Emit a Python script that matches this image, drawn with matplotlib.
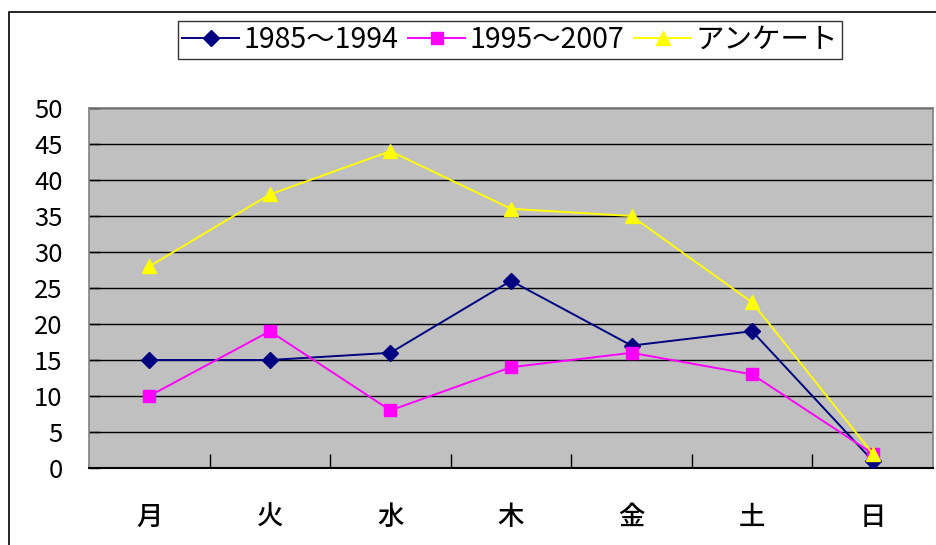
import matplotlib
matplotlib.use("Agg")
import matplotlib.pyplot as plt
from matplotlib.patches import Rectangle
import numpy as np

plt.rcParams['font.family'] = ['Noto Sans CJK JP', 'DejaVu Sans']

days = ["月", "火", "水", "木", "金", "土", "日"]
s1_label = "1985～1994"
s2_label = "1995～2007"
s3_label = "アンケート"
s1 = [15, 15, 16, 26, 17, 19, 1]
s2 = [10, 19, 8, 14, 16, 13, 2]
s3 = [28, 38, 44, 36, 35, 23, 2]
yticks = [0, 5, 10, 15, 20, 25, 30, 35, 40, 45, 50]

W, H = 936, 545
fig = plt.figure(figsize=(W / 100, H / 100), dpi=100)

# outer chart frame
fig.patches.append(Rectangle((9 / W, -0.2), 1.5, 1.2 - 12 / H, transform=fig.transFigure,
                             fill=False, edgecolor='black', linewidth=1.2, clip_on=False))

L, R, T, B = 89, 933, 108, 468
ax = fig.add_axes([L / W, 1 - B / H, (R - L) / W, (B - T) / H])
ax.set_facecolor('#C0C0C0')

x = np.arange(len(days))
ax.plot(x, s1, color='#000080', marker='D', markersize=8.5, linewidth=1.4, label=s1_label, zorder=3)
ax.plot(x, s2, color='#FF00FF', marker='s', markersize=8.5, linewidth=1.4, label=s2_label, zorder=3)
ax.plot(x, s3, color='#FFFF00', marker='^', markersize=10, linewidth=1.4, label=s3_label, zorder=3)

ax.set_xlim(-0.5, len(days) - 0.5)
ax.set_ylim(0, 50)
ax.set_yticks(yticks)
ax.set_yticklabels([str(v) for v in yticks], fontsize=18.5)
ax.yaxis.grid(True, color='black', linewidth=1.0)
ax.set_axisbelow(True)
ax.set_xticks(x)
ax.set_xticklabels(days, fontsize=19, fontweight='medium')
ax.set_xticks(np.arange(0.5, len(days) - 1, 1.0), minor=True)
ax.tick_params(axis='x', which='major', length=0, pad=26)
ax.tick_params(axis='x', which='minor', direction='in', length=10, width=1, color='black')
ax.tick_params(axis='y', direction='in', length=8, width=1, pad=19, color='black')
for s in ['top', 'right', 'left']:
    ax.spines[s].set_color('#808080')
    ax.spines[s].set_linewidth(1.2)
ax.spines['bottom'].set_color('black')
ax.spines['bottom'].set_linewidth(1.5)

leg = fig.legend(loc='center', bbox_to_anchor=(510 / W, 1 - 40 / H), ncol=3,
                 fontsize=20.5, frameon=True, fancybox=False, shadow=False,
                 handlelength=2.0, handletextpad=0.15, columnspacing=0.35,
                 borderpad=0.15, borderaxespad=0)
leg.get_frame().set_edgecolor('black')
leg.get_frame().set_linewidth(1.0)

fig.savefig('out.png', dpi=100)
